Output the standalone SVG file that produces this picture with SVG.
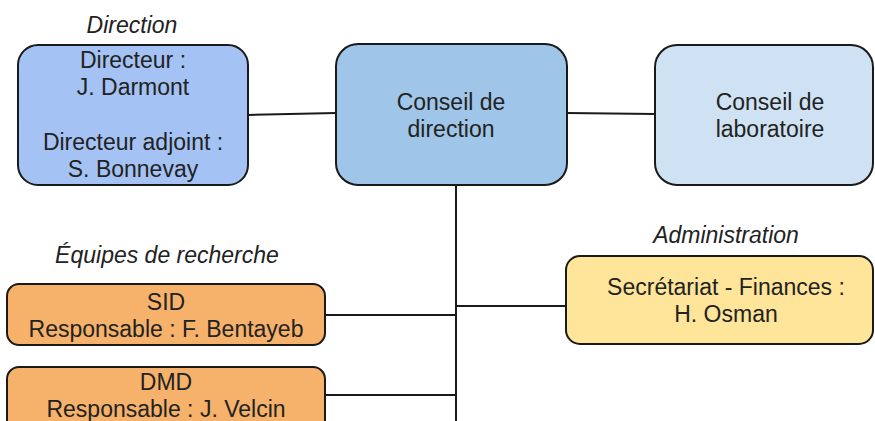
<svg xmlns="http://www.w3.org/2000/svg" width="875" height="421" viewBox="0 0 875 421">
<style>
  .box { stroke: #1a1a1a; stroke-width: 2; }
  .t { font-family: "Liberation Sans", Arial, sans-serif; font-size: 23px; fill: #222; text-anchor: middle; }
  .h { font-family: "Liberation Sans", Arial, sans-serif; font-size: 23px; font-style: italic; fill: #222; text-anchor: middle; }
  .c { stroke: #1a1a1a; stroke-width: 2; fill: none; }
</style>
<rect width="875" height="421" fill="#ffffff"/>
<g id="connectors">
  <line class="c" x1="248" y1="115" x2="336" y2="113"/>
  <line class="c" x1="567" y1="113" x2="655" y2="114"/>
  <line class="c" x1="456" y1="185" x2="456" y2="421"/>
  <line class="c" x1="456" y1="306" x2="566" y2="306"/>
  <line class="c" x1="325" y1="315" x2="456" y2="315"/>
  <line class="c" x1="325" y1="395" x2="456" y2="395"/>
</g>
<g id="label-direction"><text class="h" x="132" y="33">Direction</text></g>
<g id="direction">
  <rect class="box" x="18" y="45" width="230" height="140" rx="20" fill="#a4c2f4"/>
  <text class="t" x="133" y="68">Directeur :</text>
  <text class="t" x="133" y="95">J. Darmont</text>
  <text class="t" x="133" y="150">Directeur adjoint :</text>
  <text class="t" x="133" y="177">S. Bonnevay</text>
</g>
<g id="conseil-direction">
  <rect class="box" x="336" y="44" width="231" height="141" rx="22" fill="#9fc5e8"/>
  <text class="t" x="451" y="110">Conseil de</text>
  <text class="t" x="451" y="137">direction</text>
</g>
<g id="conseil-laboratoire">
  <rect class="box" x="655" y="45" width="218" height="140" rx="22" fill="#cfe2f3"/>
  <text class="t" x="770" y="110">Conseil de</text>
  <text class="t" x="770" y="137">laboratoire</text>
</g>
<g id="label-equipes"><text class="h" x="167" y="263">Équipes de recherche</text></g>
<g id="sid">
  <rect class="box" x="7" y="284" width="318" height="61" rx="12" fill="#f6b26b"/>
  <text class="t" x="166" y="310">SID</text>
  <text class="t" x="166" y="337">Responsable : F. Bentayeb</text>
</g>
<g id="dmd">
  <rect class="box" x="7" y="367" width="318" height="70" rx="12" fill="#f6b26b"/>
  <text class="t" x="166" y="390">DMD</text>
  <text class="t" x="166" y="417">Responsable : J. Velcin</text>
</g>
<g id="label-administration"><text class="h" x="726" y="243">Administration</text></g>
<g id="administration">
  <rect class="box" x="566" y="256" width="307" height="88" rx="14" fill="#ffe599"/>
  <text class="t" x="726" y="295">Secrétariat - Finances :</text>
  <text class="t" x="726" y="322">H. Osman</text>
</g>
</svg>
